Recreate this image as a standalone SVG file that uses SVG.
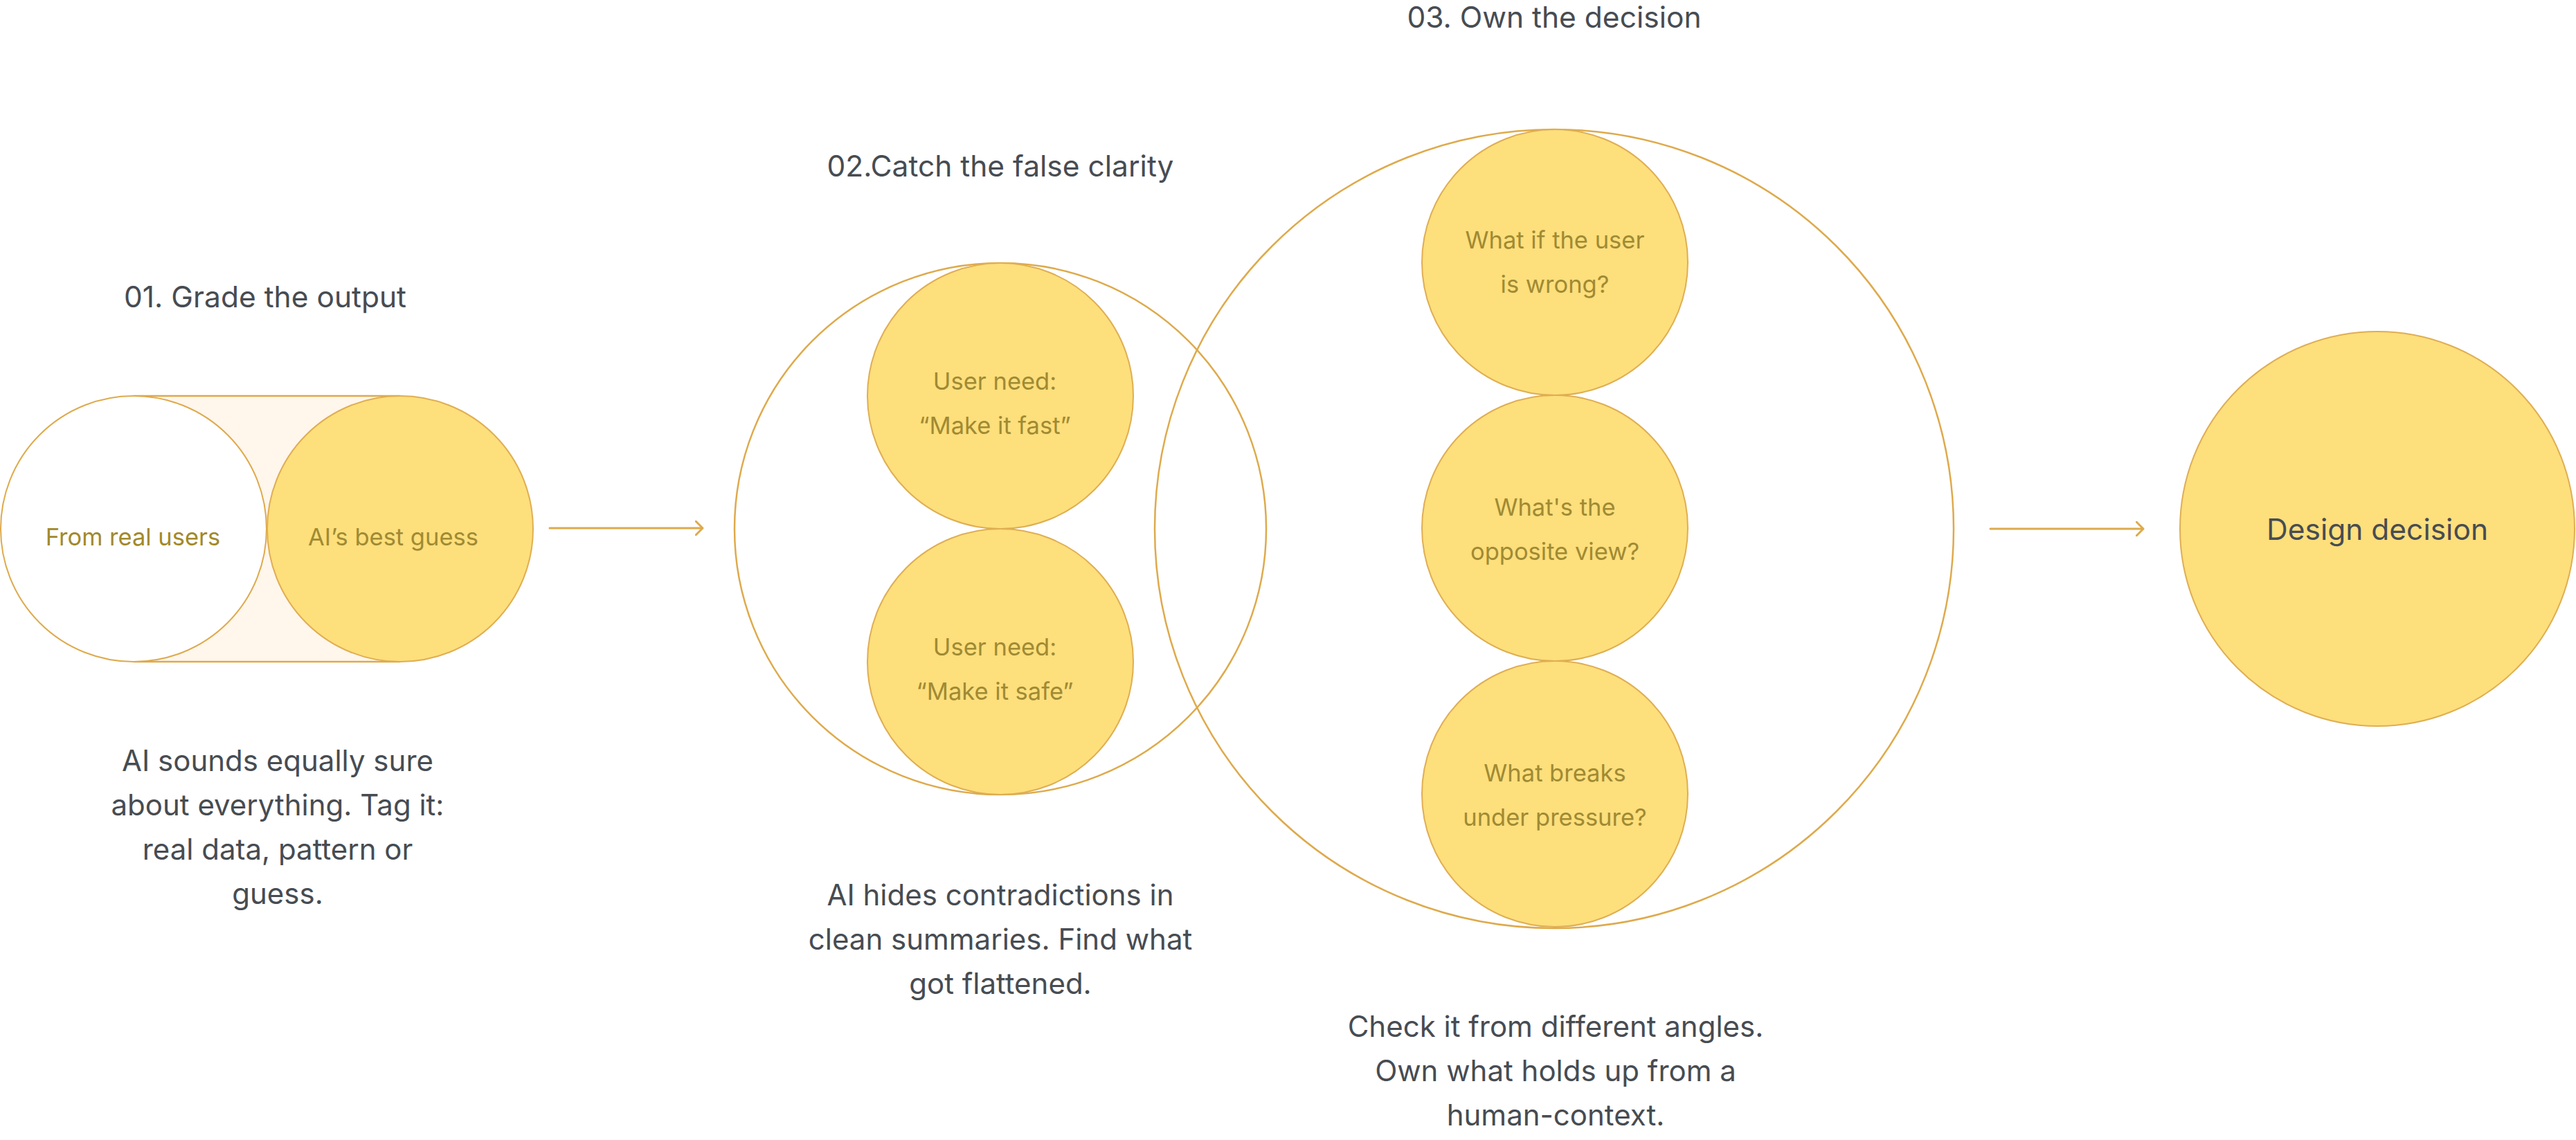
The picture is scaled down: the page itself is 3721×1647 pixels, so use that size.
<svg xmlns="http://www.w3.org/2000/svg" width="3721" height="1647" viewBox="0 0 3721 1647">
<style>
  text { font-family: Inter, "Noto Sans", "Liberation Sans", sans-serif; text-anchor: middle; }
  .title { font-size: 42.5px; fill: #474C52; }
  .body { font-size: 42px; fill: #474C52; }
  .lbl { font-size: 34.5px; fill: #A08A33; }
  .lblw { font-size: 34.5px; fill: #A2892B; }
  .big { font-size: 42.5px; fill: #474C52; }
  .ring { fill: none; stroke: #DEAA4C; stroke-width: 2.5; }
  .yel { fill: #FDDF7C; stroke: #DFAE52; stroke-width: 2; }
  .wht { fill: #FFFFFF; stroke: #DEAA4C; stroke-width: 2; }
  .conn { fill: none; stroke: #DEAA4C; stroke-width: 3; stroke-linecap: round; stroke-linejoin: round; }
</style>
<defs>
  <marker id="chev" viewBox="0 0 12 22" refX="11" refY="11" markerWidth="12" markerHeight="22" markerUnits="userSpaceOnUse" orient="auto">
    <path d="M1 1 L11 11 L1 21" fill="none" stroke="#DEAA4C" stroke-width="3" stroke-linecap="round" stroke-linejoin="round"/>
  </marker>
</defs>
<rect width="3721" height="1647" fill="#FFFFFF"/>

<g id="step1">
  <text class="title" x="383" y="444">01. Grade the output</text>
  <g id="band">
    <rect x="193" y="572" width="385" height="384" fill="#FFF6EC"/>
    <line x1="193" y1="572" x2="578" y2="572" stroke="#DEAA4C" stroke-width="2.5"/>
    <line x1="193" y1="956" x2="578" y2="956" stroke="#DEAA4C" stroke-width="2.5"/>
  </g>
  <g id="from-real-users">
    <circle class="wht" cx="193" cy="764" r="192"/>
    <text class="lblw" x="192" y="788">From real users</text>
  </g>
  <g id="ai-best-guess">
    <circle class="yel" cx="578" cy="764" r="192"/>
    <text class="lbl" x="568" y="788">AI’s best guess</text>
  </g>
  <text class="body" x="401" y="1114">AI sounds equally sure</text>
  <text class="body" x="401" y="1178">about everything. Tag it:</text>
  <text class="body" x="401" y="1242">real data, pattern or</text>
  <text class="body" x="401" y="1306">guess.</text>
</g>

<g id="step2">
  <text class="title" x="1445" y="255">02.Catch the false clarity</text>
  <circle class="ring" cx="1445" cy="764" r="384"/>
  <g id="need-fast">
    <circle class="yel" cx="1445" cy="572" r="192"/>
    <text class="lbl" x="1437" y="563">User need:</text>
    <text class="lbl" x="1437" y="627">“Make it fast”</text>
  </g>
  <g id="need-safe">
    <circle class="yel" cx="1445" cy="956" r="192"/>
    <text class="lbl" x="1437" y="947">User need:</text>
    <text class="lbl" x="1437" y="1011">“Make it safe”</text>
  </g>
  <text class="body" x="1445" y="1308">AI hides contradictions in</text>
  <text class="body" x="1445" y="1372">clean summaries. Find what</text>
  <text class="body" x="1445" y="1436">got flattened.</text>
</g>

<g id="step3">
  <text class="title" x="2245" y="40">03. Own the decision</text>
  <circle class="ring" cx="2245" cy="764" r="577"/>
  <g id="user-wrong">
    <circle class="yel" cx="2246" cy="379" r="192"/>
    <text class="lbl" x="2246" y="359">What if the user</text>
    <text class="lbl" x="2246" y="423">is wrong?</text>
  </g>
  <g id="opposite-view">
    <circle class="yel" cx="2246" cy="763" r="192"/>
    <text class="lbl" x="2246" y="745">What's the</text>
    <text class="lbl" x="2246" y="809">opposite view?</text>
  </g>
  <g id="under-pressure">
    <circle class="yel" cx="2246" cy="1147" r="192"/>
    <text class="lbl" x="2246" y="1129">What breaks</text>
    <text class="lbl" x="2246" y="1193">under pressure?</text>
  </g>
  <text class="body" x="2247" y="1498">Check it from different angles.</text>
  <text class="body" x="2247" y="1562">Own what holds up from a</text>
  <text class="body" x="2247" y="1626">human-context.</text>
</g>

<g id="design-decision">
  <circle class="yel" cx="3434" cy="764" r="285"/>
  <text class="big" x="3434" y="780">Design decision</text>
</g>

<g id="connectors">
  <line class="conn" x1="794" y1="763" x2="1015" y2="763" marker-end="url(#chev)"/>
  <line class="conn" x1="2875" y1="764" x2="3096" y2="764" marker-end="url(#chev)"/>
</g>
</svg>
